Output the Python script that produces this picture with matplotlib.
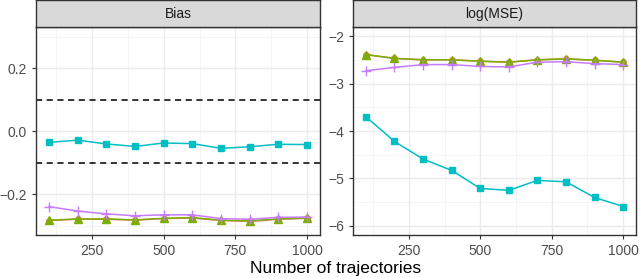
import matplotlib
matplotlib.use('Agg')
import matplotlib.pyplot as plt

plt.rcParams['font.family'] = ['Liberation Sans', 'DejaVu Sans']

n_traj = [100, 200, 300, 400, 500, 600, 700, 800, 900, 1000]

# Bias panel
bias_orange = [-0.284, -0.280, -0.280, -0.283, -0.278, -0.276, -0.284, -0.287, -0.280, -0.277]
bias_green = [-0.283, -0.279, -0.279, -0.282, -0.277, -0.275, -0.283, -0.285, -0.279, -0.276]
bias_cyan = [-0.036, -0.029, -0.041, -0.049, -0.038, -0.040, -0.055, -0.050, -0.042, -0.043]
bias_purple = [-0.240, -0.254, -0.263, -0.269, -0.266, -0.266, -0.278, -0.280, -0.274, -0.273]

# log(MSE) panel
mse_orange = [-2.39, -2.47, -2.50, -2.50, -2.53, -2.55, -2.50, -2.48, -2.51, -2.55]
mse_green = [-2.39, -2.47, -2.50, -2.50, -2.53, -2.55, -2.50, -2.48, -2.51, -2.55]
mse_cyan = [-3.70, -4.22, -4.59, -4.83, -5.21, -5.25, -5.04, -5.07, -5.40, -5.59]
mse_purple = [-2.73, -2.66, -2.60, -2.60, -2.64, -2.65, -2.55, -2.54, -2.58, -2.60]

colors = ['#F8766D', '#7CAE00', '#00BFC4', '#C77CFF']
markers = ['o', '^', 's', '+']
msizes = [4.0, 6.0, 4.8, 7.0]

fig = plt.figure(figsize=(6.4, 2.78), dpi=100)

panels = [
    ('Bias', [bias_orange, bias_green, bias_cyan, bias_purple],
     (-0.33, 0.33), [-0.2, 0.0, 0.2], ['\u22120.2', '0.0', '0.2'], [-0.3, -0.1, 0.1, 0.3],
     [0.05625, 0.1547, 0.44375, 0.748]),
    ('log(MSE)', [mse_orange, mse_green, mse_cyan, mse_purple],
     (-6.19, -1.81), [-6, -5, -4, -3, -2], ['\u22126', '\u22125', '\u22124', '\u22123', '\u22122'],
     [-5.5, -4.5, -3.5, -2.5],
     [0.5516, 0.1547, 0.4422, 0.748]),
]

for title, series, ylim, yticks, ylabels, yminor, rect in panels:
    ax = fig.add_axes(rect)
    ax.set_xlim(55, 1045)
    ax.set_ylim(*ylim)
    for x in [125, 375, 625, 875]:
        ax.axvline(x, color='#F2F2F2', lw=0.5, zorder=0)
    for y in yminor:
        ax.axhline(y, color='#F2F2F2', lw=0.5, zorder=0)
    for x in [250, 500, 750, 1000]:
        ax.axvline(x, color='#EBEBEB', lw=1.0, zorder=0)
    for y in yticks:
        ax.axhline(y, color='#EBEBEB', lw=1.0, zorder=0)
    if title == 'Bias':
        ax.axhline(0.1, color='black', lw=1.1, ls=(0, (4, 3)), zorder=1)
        ax.axhline(-0.1, color='black', lw=1.1, ls=(0, (4, 3)), zorder=1)
    for vals, c, m, ms in zip(series, colors, markers, msizes):
        ax.plot(n_traj, vals, color=c, lw=1.1, marker=m, ms=ms, mew=1.0, zorder=2)
    ax.set_xticks([250, 500, 750, 1000])
    ax.set_xticklabels(['250', '500', '750', '1000'])
    ax.set_yticks(yticks)
    ax.set_yticklabels(ylabels)
    ax.tick_params(labelsize=10, colors='#333333', labelcolor='#4D4D4D', length=3, width=0.8)
    for s in ax.spines.values():
        s.set_color('#333333')
        s.set_linewidth(1.0)
    # facet strip
    strip = fig.add_axes([rect[0], rect[1] + rect[3], rect[2], 0.097])
    strip.set_xticks([])
    strip.set_yticks([])
    strip.set_facecolor('#D9D9D9')
    for s in strip.spines.values():
        s.set_color('#333333')
        s.set_linewidth(1.0)
    strip.text(0.5, 0.47, title, ha='center', va='center', fontsize=10, color='#1A1A1A',
               transform=strip.transAxes)

fig.text(0.525, 0.035, 'Number of trajectories', ha='center', va='center', fontsize=12.5)

fig.savefig('out.png', dpi=100)
